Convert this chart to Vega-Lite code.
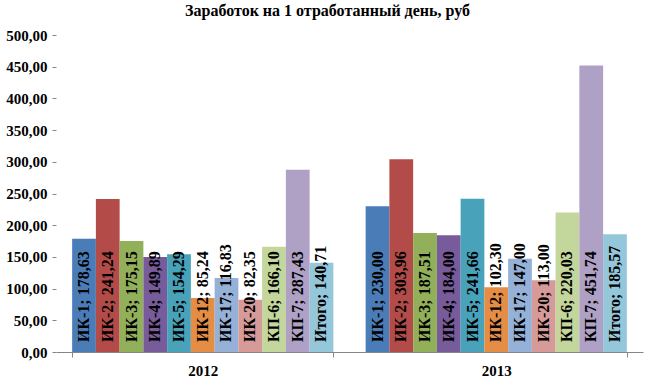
{
  "$schema": "https://vega.github.io/schema/vega-lite/v6.json",
  "width": 587,
  "height": 317,
  "autosize": {"type": "none"},
  "padding": {"left": 56, "top": 35, "right": 2, "bottom": 26},
  "background": "white",
  "config": {
    "view": {"stroke": null},
    "axisY": {
      "title": null,
      "labelOverlap": false,
      "labelFont": "Liberation Serif",
      "labelFontSize": 15,
      "labelFontWeight": "bold",
      "labelColor": "#000000",
      "labelPadding": 5,
      "grid": false,
      "domain": false,
      "tickColor": "#868686",
      "tickSize": 4
    }
  },
  "title": {
    "text": "Заработок на 1 отработанный день, руб",
    "font": "Liberation Serif",
    "fontSize": 16,
    "fontWeight": "bold",
    "color": "#000000",
    "anchor": "middle",
    "frame": "group",
    "dx": -22,
    "offset": 9
  },
  "data": {
    "values": [
      {"year": "2012", "series": "ИК-1", "value": 178.63},
      {"year": "2012", "series": "ИК-2", "value": 241.24},
      {"year": "2012", "series": "ИК-3", "value": 175.15},
      {"year": "2012", "series": "ИК-4", "value": 149.89},
      {"year": "2012", "series": "ИК-5", "value": 154.29},
      {"year": "2012", "series": "ИК-12", "value": 85.24},
      {"year": "2012", "series": "ИК-17", "value": 116.83},
      {"year": "2012", "series": "ИК-20", "value": 82.35},
      {"year": "2012", "series": "КП-6", "value": 166.10},
      {"year": "2012", "series": "КП-7", "value": 287.43},
      {"year": "2012", "series": "Итого", "value": 140.71},
      {"year": "2013", "series": "ИК-1", "value": 230.00},
      {"year": "2013", "series": "ИК-2", "value": 303.96},
      {"year": "2013", "series": "ИК-3", "value": 187.51},
      {"year": "2013", "series": "ИК-4", "value": 184.00},
      {"year": "2013", "series": "ИК-5", "value": 241.66},
      {"year": "2013", "series": "ИК-12", "value": 102.30},
      {"year": "2013", "series": "ИК-17", "value": 147.00},
      {"year": "2013", "series": "ИК-20", "value": 113.00},
      {"year": "2013", "series": "КП-6", "value": 220.03},
      {"year": "2013", "series": "КП-7", "value": 451.74},
      {"year": "2013", "series": "Итого", "value": 185.57}
    ]
  },
  "transform": [
    {"calculate": "datum.series + ';  ' + replace(format(datum.value, '.2f'), '.', ',')", "as": "label"}
  ],
  "encoding": {
    "x": {
      "field": "year",
      "type": "nominal",
      "scale": {"paddingInner": 0.11, "paddingOuter": 0.055},
      "axis": {
        "title": null,
        "labelAngle": 0,
        "labelFont": "Liberation Serif",
        "labelFontSize": 15,
        "labelFontWeight": "bold",
        "labelColor": "#000000",
        "labelPadding": 6,
        "domainColor": "#868686",
        "tickColor": "#868686",
        "tickBand": "extent",
        "tickSize": 5
      }
    },
    "xOffset": {
      "field": "series",
      "type": "nominal",
      "sort": ["ИК-1", "ИК-2", "ИК-3", "ИК-4", "ИК-5", "ИК-12", "ИК-17", "ИК-20", "КП-6", "КП-7", "Итого"],
      "scale": {"paddingInner": 0, "paddingOuter": 0}
    }
  },
  "layer": [
    {
      "mark": {"type": "bar"},
      "encoding": {
        "y": {
          "field": "value",
          "type": "quantitative",
          "scale": {"domain": [0, 500], "nice": false},
          "axis": {
            "values": [0, 50, 100, 150, 200, 250, 300, 350, 400, 450, 500],
            "labelExpr": "replace(format(datum.value, '.2f'), '.', ',')"
          }
        },
        "color": {
          "field": "series",
          "type": "nominal",
          "legend": null,
          "scale": {
            "domain": ["ИК-1", "ИК-2", "ИК-3", "ИК-4", "ИК-5", "ИК-12", "ИК-17", "ИК-20", "КП-6", "КП-7", "Итого"],
            "range": ["#4A7DB8", "#B34C48", "#92B059", "#775B9B", "#47A2BA", "#E58C45", "#95B1D8", "#D69A98", "#C3D69B", "#AFA0C5", "#94C7DA"]
          }
        }
      }
    },
    {
      "mark": {
        "type": "text",
        "angle": 270,
        "align": "left",
        "baseline": "middle",
        "dx": 10,
        "font": "Liberation Serif",
        "fontSize": 16,
        "fontWeight": "bold",
        "color": "#000000"
      },
      "encoding": {
        "y": {
          "datum": 0,
          "type": "quantitative",
          "axis": {
            "values": [0, 50, 100, 150, 200, 250, 300, 350, 400, 450, 500],
            "labelExpr": "replace(format(datum.value, '.2f'), '.', ',')"
          }
        },
        "text": {"field": "label"}
      }
    }
  ]
}
